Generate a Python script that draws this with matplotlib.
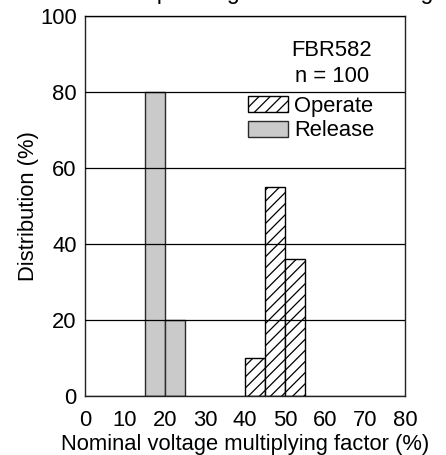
import matplotlib
matplotlib.use("Agg")
import matplotlib.pyplot as plt
from matplotlib.patches import Patch

plt.rcParams['font.family'] = ['Liberation Sans', 'DejaVu Sans']
plt.rcParams['hatch.linewidth'] = 0.9

# data (bin left edges, bin width 5 %)
release_bins = [15, 20]
release_pct = [80, 20]
operate_bins = [40, 45, 50]
operate_pct = [10, 55, 36]
bin_width = 5
x_ticks = [0, 10, 20, 30, 40, 50, 60, 70, 80]
y_ticks = [0, 20, 40, 60, 80, 100]

FS = 15.8
W, H = 446, 455
fig = plt.figure(figsize=(W / 100, H / 100), dpi=100)
ax = fig.add_axes([85 / W, 1 - 396 / H, 320 / W, 380 / H])

ax.bar(release_bins, release_pct, width=bin_width, align='edge',
       facecolor='#cacaca', edgecolor='#2a2a2a', linewidth=1.0, zorder=1)
ax.bar(operate_bins, operate_pct, width=bin_width, align='edge',
       facecolor='white', edgecolor='black', hatch='///', linewidth=1.0, zorder=1)

ax.set_xlim(0, 80)
ax.set_ylim(0, 100)
ax.set_xticks(x_ticks)
ax.set_yticks(y_ticks)
ax.tick_params(length=0, labelsize=FS)
ax.tick_params(axis='x', pad=10)
ax.tick_params(axis='y', pad=6)

# horizontal rules drawn over the bars
ax.set_axisbelow(False)
ax.yaxis.grid(True, color='black', linewidth=0.9, zorder=3)
for s in ax.spines.values():
    s.set_color('#222222')
    s.set_linewidth(1.0)

ax.set_xlabel('Nominal voltage multiplying factor (%)', fontsize=FS, labelpad=2)
ax.set_ylabel('Distribution (%)', fontsize=FS, labelpad=1)

# clipped title at the very top
fig.text(139 / W, 1 + 1 / H, 'Operating and release voltage',
         fontsize=16.5, ha='left', va='baseline')

ax.text(61.75, 91.0, 'FBR582', fontsize=FS, ha='center', va='center')
ax.text(61.75, 84.0, 'n = 100', fontsize=FS, ha='center', va='center')

handles = [Patch(facecolor='white', edgecolor='black', hatch='///', linewidth=1.0),
           Patch(facecolor='#cacaca', edgecolor='#2a2a2a', linewidth=1.0)]
ax.legend(handles, ['Operate', 'Release'], loc='upper left',
          bbox_to_anchor=((248 - 85) / 320, (396 - 96) / 380),
          frameon=False, fontsize=FS, handlelength=1.8, handleheight=0.75,
          handletextpad=0.3, labelspacing=0.15, borderpad=0, borderaxespad=0)

fig.savefig('out.png', dpi=100)
